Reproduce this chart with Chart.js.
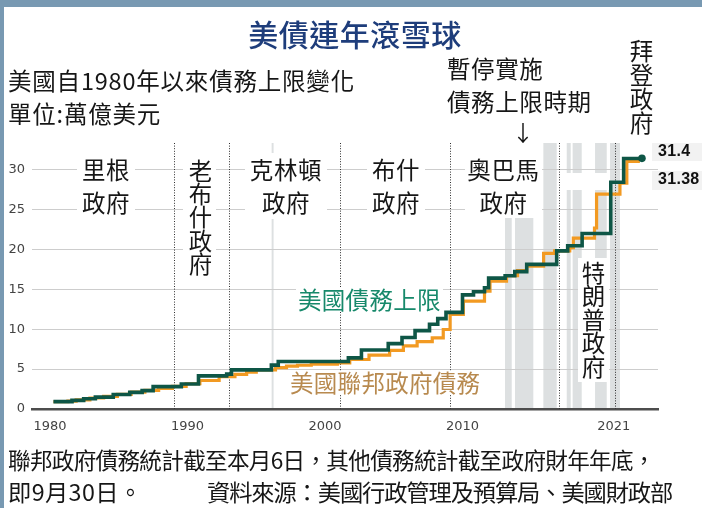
<!DOCTYPE html>
<html>
<head>
<meta charset="utf-8">
<script src="https://cdn.jsdelivr.net/npm/chart.js@4.4.1/dist/chart.umd.min.js"></script>
<style>
  html, body { margin: 0; padding: 0; background: #fff; }
  #wrap { position: relative; width: 702px; height: 508px; overflow: hidden; background: #fff;
          font-family: "Noto Sans CJK TC", "Noto Sans CJK SC", sans-serif; color: #161616; }
  .edge { position: absolute; background: #7899b2; }
  canvas { position: absolute; left: 0; top: 0; z-index: 1; }
  .t { position: absolute; white-space: nowrap; line-height: 1; font-size: 23.5px; letter-spacing: 0.6px; z-index: 2; }
  .v { writing-mode: vertical-rl; text-orientation: upright; letter-spacing: 0.2px; }
  .adm { background: #fff; text-align: center; line-height: 33px; }
  .box { position: absolute; z-index: 2; }
  .num { font-family: "Liberation Sans", Arial, sans-serif; font-weight: bold; font-size: 16px; letter-spacing: 0.3px; color: #111; }
</style>
</head>
<body>
<div id="wrap">
  <div class="edge" style="left:0;top:0;width:702px;height:7px"></div>
  <div class="edge" style="left:0;top:0;width:4px;height:508px"></div>

  <canvas id="c" width="702" height="508"></canvas>

  <div class="t" style="left:205px;top:18px;width:300px;text-align:center;font-size:30px;font-weight:500;letter-spacing:0.5px;color:#1e3d7b">美債連年滾雪球</div>
  <div class="t" style="left:8px;top:69px;letter-spacing:0.8px">美國自1980年以來債務上限變化</div>
  <div class="t" style="left:8px;top:102px;letter-spacing:0.8px">單位:萬億美元</div>

  <div class="t" style="left:447px;top:57px">暫停實施</div>
  <div class="t" style="left:447px;top:90px">債務上限時期</div>
  <div class="t" style="left:512px;top:120px;width:22px;text-align:center;font-size:22px;letter-spacing:0">↓</div>
  <div class="t v" style="left:629px;top:39px;letter-spacing:0.5px">拜登政府</div>

  <!-- 總統任期標籤 -->
  <div class="t adm" style="left:77px;top:153px;width:58px">里根<br>政府</div>
  <div class="t v" style="left:183px;top:156px;padding:3px 5px;background:#fff;font-size:23.4px;letter-spacing:0">老布什政府</div>
  <div class="t adm" style="left:245px;top:153px;width:82px">克林頓<br>政府</div>
  <div class="t adm" style="left:367px;top:153px;width:58px">布什<br>政府</div>
  <div class="box" style="left:465px;top:143px;width:77px;height:75px;background:#fff"></div>
  <div class="t adm" style="left:465px;top:153px;width:77px;background:transparent">奧巴馬<br>政府</div>
  <div class="box" style="left:566px;top:173px;width:43px;height:17px;background:#fff"></div>
  <div class="box" style="left:578px;top:258px;width:31px;height:124px;background:#fff"></div>
  <div class="t v" style="left:581px;top:261px;letter-spacing:0.1px">特朗普政府</div>

  <!-- 線條說明 -->
  <div class="t" style="left:296px;top:288px;padding:0 2px;background:#fff;color:#17896b;letter-spacing:0.3px">美國債務上限</div>
  <div class="t" style="left:288px;top:371px;padding:0 2px;background:#fff;color:#b88a4f;letter-spacing:0.3px">美國聯邦政府債務</div>

  <div class="box" style="left:652px;top:143px;width:50px;height:18px;background:#f2f2f2"></div>
  <div class="box" style="left:652px;top:171px;width:50px;height:19px;background:#f2f2f2"></div>
  <div class="t num" style="left:658px;top:143px">31.4</div>
  <div class="t num" style="left:658px;top:171px">31.38</div>

  <div class="t" style="left:8px;top:449px;font-size:22.6px;letter-spacing:-0.7px">聯邦政府債務統計截至本月6日，其他債務統計截至政府財年年底，</div>
  <div class="t" style="left:8px;top:480px;font-size:23.25px;letter-spacing:0.4px">即9月30日。</div>
  <div class="t" style="left:207px;top:480px;font-size:23.25px;letter-spacing:-1.1px">資料來源：美國行政管理及預算局、美國財政部</div>
</div>

<script>
// 法定債務上限（萬億美元），每個點為上限改變的時間
const ceilingX = [1980.25, 1981.6, 1982.45, 1983.3, 1984.6, 1985.8, 1986.7, 1987.5, 1989.55, 1990.8,
  1992.85, 1993.2, 1996.1, 1996.6, 2001.7, 2002.65, 2004.6, 2005.6, 2006.55, 2007.6,
  2008.2, 2008.8, 2010.0, 2010.8, 2011.6, 2011.9, 2013.1, 2013.8, 2014.67, 2016.85,
  2017.65, 2018.7, 2020.78, 2021.72, 2023.05];
const ceilingY = [0.925, 1.079, 1.29, 1.49, 1.823, 2.079, 2.3, 2.8, 3.123, 4.145,
  4.37, 4.9, 5.5, 5.95, 6.4, 7.384, 8.184, 8.965, 9.815, 10.615,
  11.315, 12.104, 14.294, 14.694, 15.194, 16.394, 16.699, 17.212, 18.113, 19.809,
  20.456, 21.988, 28.401, 31.381, 31.4];

// 聯邦政府債務（萬億美元）
const debtX = [1980.25, 1981.3, 1981.9, 1982.9, 1983.9, 1984.9, 1985.9, 1986.9, 1987.9, 1988.9,
  1989.9, 1990.9, 1992.3, 1993.45, 1994.3, 1995.0, 1996.4, 1997.2, 1998.0, 1999.0,
  2000.0, 2000.9, 2001.8, 2003.2, 2004.7, 2005.7, 2006.7, 2007.8, 2008.6, 2009.1,
  2010.06, 2011.6, 2012.0, 2013.2, 2014.0, 2014.67, 2015.9, 2016.7, 2017.8, 2018.06,
  2019.6, 2019.75, 2021.45, 2021.95, 2022.9];
const debtY = [0.908, 0.998, 1.142, 1.377, 1.572, 1.823, 2.111, 2.336, 2.587, 2.83,
  3.161, 3.569, 4.065, 4.346, 4.605, 4.885, 5.182, 5.37, 5.479, 5.606,
  5.629, 5.77, 6.198, 6.76, 7.355, 7.905, 8.451, 8.921, 9.96, 11.853,
  13.511, 14.747, 16.027, 16.719, 17.35, 17.9, 19.5, 19.8, 20.2, 21.4,
  22.67, 26.92, 28.3, 31.0, 31.0];

// 暫停實施債務上限時期
const suspendStart = [1996.12, 2013.09, 2013.82, 2015.88, 2017.58, 2018.01, 2019.64, 2020.73];
const suspendEnd   = [1996.26, 2013.58, 2015.15, 2016.85, 2017.87, 2018.67, 2020.49, 2021.45];

// 總統就職（分隔虛線）
const adminYears = [1989.05, 1993.05, 2001.08, 2009.08, 2017.05, 2021.08];

const xTicks = [1980, 1990, 2000, 2010, 2021];
const yTicks = [0, 5, 10, 15, 20, 25, 30];

const GREEN = "#0e5646";
const ORANGE = "#f29a22";
const BAND = "#dde0e1";
const tickFont = { family: "DejaVu Sans", size: 13 };

const backdrop = {
  id: "backdrop",
  beforeDraw(chart) {
    const { ctx, chartArea: a, scales: { x } } = chart;
    ctx.save();
    ctx.fillStyle = BAND;
    suspendStart.forEach((s, i) => {
      const x0 = x.getPixelForValue(s);
      const x1 = x.getPixelForValue(suspendEnd[i]);
      ctx.fillRect(x0, a.top, x1 - x0, a.bottom - a.top);
    });
    ctx.restore();
  },
  beforeDatasetsDraw(chart) {
    const { ctx, chartArea: a, scales: { x } } = chart;
    ctx.save();
    ctx.strokeStyle = "#2e2e2e";
    ctx.lineWidth = 1;
    ctx.setLineDash([1, 1.6]);
    adminYears.forEach((v) => {
      const px = Math.round(x.getPixelForValue(v)) + 0.5;
      ctx.beginPath();
      ctx.moveTo(px, a.top);
      ctx.lineTo(px, a.bottom);
      ctx.stroke();
    });
    ctx.restore();
  },
};

new Chart(document.getElementById("c"), {
  type: "line",
  data: {
    datasets: [
      {
        label: "美國債務上限",
        data: ceilingX.map((x, i) => ({ x, y: ceilingY[i] })),
        stepped: "before",
        borderColor: GREEN,
        borderWidth: 3.6,
        borderJoinStyle: "miter",
        pointRadius: (c) => (c.dataIndex === ceilingX.length - 1 ? 3.8 : 0),
        pointBackgroundColor: GREEN,
        pointBorderWidth: 0,
        fill: false,
      },
      {
        label: "美國聯邦政府債務",
        data: debtX.map((x, i) => ({ x, y: debtY[i] })),
        stepped: "before",
        borderColor: ORANGE,
        borderWidth: 3.2,
        borderJoinStyle: "miter",
        pointRadius: 0,
        fill: false,
      },
    ],
  },
  options: {
    responsive: false,
    animation: false,
    devicePixelRatio: 1,
    layout: { padding: { left: 0, right: 44, top: 143, bottom: 69 } },
    plugins: { legend: { display: false }, tooltip: { enabled: false } },
    scales: {
      x: {
        type: "linear",
        min: 1978.691,
        max: 2024.218,
        afterBuildTicks: (s) => { s.ticks = xTicks.map((v) => ({ value: v })); },
        afterFit: (s) => { s.height = 30; },
        grid: { display: false, drawTicks: false },
        border: { display: true, color: "#4d4d4d", width: 2.5 },
        ticks: { padding: 10, color: "#444", font: tickFont, callback: (v) => String(v), maxRotation: 0 },
      },
      y: {
        min: 0,
        max: 33.32,
        afterBuildTicks: (s) => { s.ticks = yTicks.map((v) => ({ value: v })); },
        afterFit: (s) => { s.width = 32; },
        grid: { color: "#cdcdcd", lineWidth: 1, drawTicks: false },
        border: { display: false },
        ticks: { padding: 7, color: "#444", font: tickFont },
      },
    },
  },
  plugins: [backdrop],
});
</script>
</body>
</html>
